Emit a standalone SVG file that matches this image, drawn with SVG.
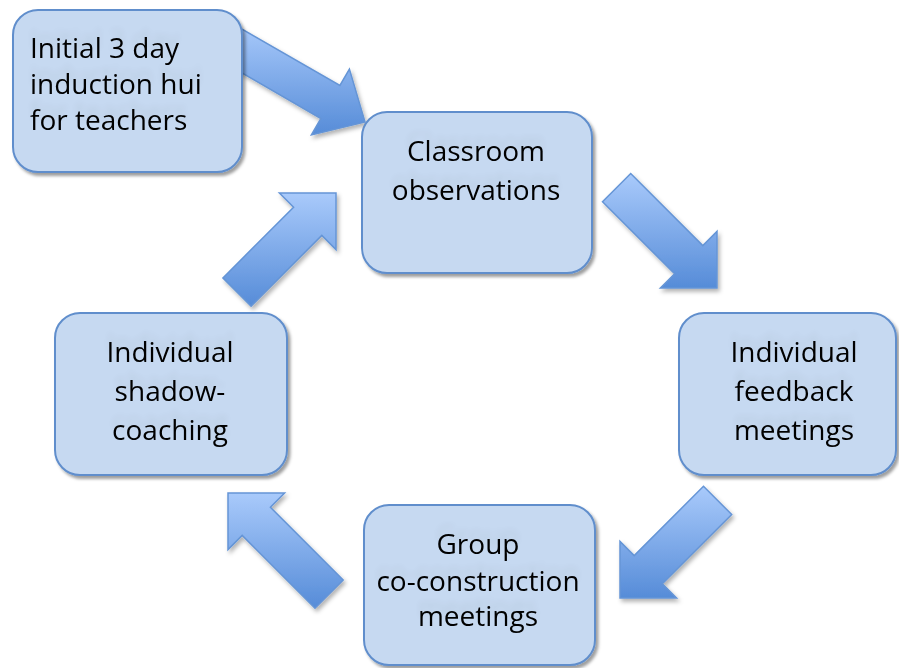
<svg xmlns="http://www.w3.org/2000/svg" width="899" height="668" viewBox="0 0 899 668">
<defs>
<linearGradient id="ag" x1="0" y1="0" x2="0" y2="1">
<stop offset="0" stop-color="#a9cafb"/>
<stop offset="1" stop-color="#568cd8"/>
</linearGradient>
<filter id="sh" x="-10%" y="-10%" width="125%" height="125%">
<feDropShadow dx="2.5" dy="3" stdDeviation="1.8" flood-color="#000" flood-opacity="0.38"/>
</filter>
<filter id="ash" x="-10%" y="-10%" width="130%" height="130%">
<feDropShadow dx="2" dy="3" stdDeviation="2" flood-color="#000" flood-opacity="0.3"/>
</filter>
<filter id="tg" x="-10%" y="-40%" width="120%" height="160%">
<feOffset in="SourceAlpha" dy="-9" result="o"/>
<feGaussianBlur in="o" stdDeviation="3" result="b"/>
<feComponentTransfer in="b" result="c"><feFuncA type="linear" slope="0.07"/></feComponentTransfer>
<feMerge><feMergeNode in="c"/><feMergeNode in="SourceGraphic"/></feMerge>
</filter>
</defs>
<style>
.box{fill:#c6d9f1;stroke:#608ecc;stroke-width:2;filter:url(#sh)}
.arr{fill:url(#ag);stroke:#6595d6;stroke-width:1.5;stroke-linejoin:miter;filter:url(#ash)}
.t{font-family:"Open Sans","Noto Sans",sans-serif;font-size:28px;fill:#000;filter:url(#tg)}
.c{text-anchor:middle}
</style>
<g id="connectors">
<polygon class="arr" points="212.6,56 320.9,118.5 311.4,134.9 365,122 349.4,69.1 339.9,85.5 231.6,23.1"/>
<polygon class="arr" points="602.5,201.7 674.6,273.8 660.4,288 717,288 717,231.4 702.8,245.6 630.7,173.5"/>
<polygon class="arr" points="703.5,486.3 634.2,555.6 620,541.4 620,598 676.6,598 662.4,583.8 731.7,514.5"/>
<polygon class="arr" points="343.2,580 270.4,507.2 284.6,493 228,493 228,549.6 242.2,535.4 315,608.2"/>
<polygon class="arr" points="251.1,306.1 321.8,235.4 336,249.6 336,193 279.4,193 293.6,207.2 222.9,277.9"/>
</g>
<g id="induction">
<rect class="box" x="13" y="10" width="229" height="162" rx="25"/>
<text class="t" x="30" y="58">Initial 3 day</text>
<text class="t" x="30" y="94">induction hui</text>
<text class="t" x="30" y="130">for teachers</text>
</g>
<g id="observations">
<rect class="box" x="362" y="112" width="230" height="161" rx="25"/>
<text class="t c" x="476" y="161">Classroom</text>
<text class="t c" x="476" y="200">observations</text>
</g>
<g id="feedback">
<rect class="box" x="679" y="313" width="217" height="162" rx="25"/>
<text class="t c" x="794" y="362">Individual</text>
<text class="t c" x="794" y="401">feedback</text>
<text class="t c" x="794" y="440">meetings</text>
</g>
<g id="group">
<rect class="box" x="364" y="505" width="231" height="160" rx="25"/>
<text class="t c" x="478" y="554">Group</text>
<text class="t c" x="478" y="591">co-construction</text>
<text class="t c" x="478" y="626">meetings</text>
</g>
<g id="shadow">
<rect class="box" x="55" y="313" width="232" height="162" rx="25"/>
<text class="t c" x="170" y="362">Individual</text>
<text class="t c" x="170" y="401">shadow-</text>
<text class="t c" x="170" y="440">coaching</text>
</g>
</svg>
